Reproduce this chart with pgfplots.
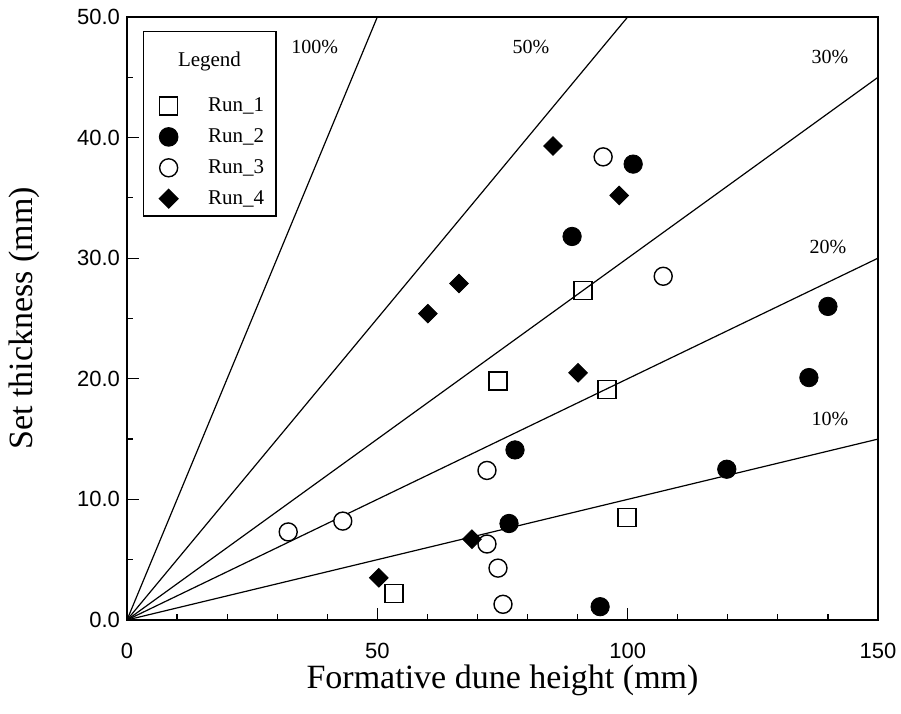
\documentclass[border=0pt]{standalone}
\usepackage{pgfplots}
\pgfplotsset{compat=1.18}
\usepackage{fontspec}
\setmainfont{Liberation Serif}
\setsansfont{Liberation Sans}

\begin{document}
\begin{tikzpicture}
\begin{axis}[
  scale only axis, width=375.5pt, height=301.5pt,
  xmin=0, xmax=150, ymin=0, ymax=50,
  xtick={0,50,100,150}, ytick={0,10,...,50},
  minor x tick num=4, minor y tick num=1,
  xtick pos=left, ytick pos=left,
  tick align=inside, major tick length=6pt, minor tick length=3pt,
  tick style={black, line width=0.6pt},
  axis line style={line width=1.4pt},
  /pgf/number format/assume math mode=true,
  ticklabel style={font=\sffamily\fontsize{11}{13}\selectfont},
  yticklabel style={/pgf/number format/.cd, fixed, fixed zerofill, precision=1},
  xticklabel style={yshift=-8pt},
  xlabel={Formative dune height (mm)}, ylabel={Set thickness (mm)},
  label style={font=\fontsize{17}{20}\selectfont},
  xlabel style={at={(axis description cs:0.5,-0.1)}, anchor=center},
  ylabel style={at={(axis description cs:-0.137,0.5)}, anchor=center},
  legend style={at={(axis description cs:0,1)}, anchor=north west,
    xshift=8pt, yshift=-7pt, draw=black, line width=0.6pt,
    font=\fontsize{10.5}{12}\selectfont, cells={anchor=west},
    row sep=3pt, inner xsep=4pt, inner ysep=2.5pt},
]
% reference lines (ratio set/dune)
\addplot[black, line width=0.6pt, forget plot] coordinates {(0,0) (50,50)};
\addplot[black, line width=0.6pt, forget plot] coordinates {(0,0) (100,50)};
\addplot[black, line width=0.6pt, forget plot] coordinates {(0,0) (150,45)};
\addplot[black, line width=0.6pt, forget plot] coordinates {(0,0) (150,30)};
\addplot[black, line width=0.6pt, forget plot] coordinates {(0,0) (150,15)};

\addlegendimage{empty legend}
\addlegendentry{\hspace{-2pt}\raisebox{7pt}[20pt][0pt]{Legend}}

% Run_1
\addplot[only marks, mark=square, mark size=4.5pt, mark options={draw=black, fill=white, line width=0.7pt}]
  coordinates {(53.3,2.2) (74.1,19.8) (91.1,27.3) (95.9,19.1) (99.9,8.5)};
\addlegendentry{\hspace{13pt}Run\_1}
% Run_2
\addplot[only marks, mark=*, mark size=4.6pt, mark options={draw=black, fill=black}]
  coordinates {(77.5,14.1) (76.3,8.0) (94.5,1.1) (88.9,31.8) (101.1,37.8) (119.8,12.5) (136.2,20.1) (140.0,26.0)};
\addlegendentry{\hspace{13pt}Run\_2}
% Run_3
\addplot[only marks, mark=*, mark size=4.5pt, mark options={draw=black, fill=white, line width=0.7pt}]
  coordinates {(32.2,7.3) (43.1,8.2) (71.9,12.4) (71.9,6.3) (74.1,4.3) (75.1,1.3) (95.1,38.4) (107.1,28.5)};
\addlegendentry{\hspace{13pt}Run\_3}
% Run_4
\addplot[only marks, mark=square*, mark size=3.3pt, mark options={draw=black, fill=black, rotate=45}]
  coordinates {(50.3,3.5) (68.9,6.7) (60.1,25.4) (66.3,27.9) (85.1,39.3) (98.3,35.2) (90.1,20.5)};
\addlegendentry{\hspace{13pt}Run\_4}

\node[font=\fontsize{10}{12}\selectfont] at (axis cs:37.5,47.5) {100\%};
\node[font=\fontsize{10}{12}\selectfont] at (axis cs:80.7,47.5) {50\%};
\node[font=\fontsize{10}{12}\selectfont] at (axis cs:140.4,46.7) {30\%};
\node[font=\fontsize{10}{12}\selectfont] at (axis cs:140.0,30.9) {20\%};
\node[font=\fontsize{10}{12}\selectfont] at (axis cs:140.4,16.7) {10\%};
\end{axis}
\pgfresetboundingbox
\path ([shift={(-63.5pt,-47pt)}]current axis.south west) rectangle ([shift={(11.5pt,8.5pt)}]current axis.north east);
\end{tikzpicture}
\end{document}
